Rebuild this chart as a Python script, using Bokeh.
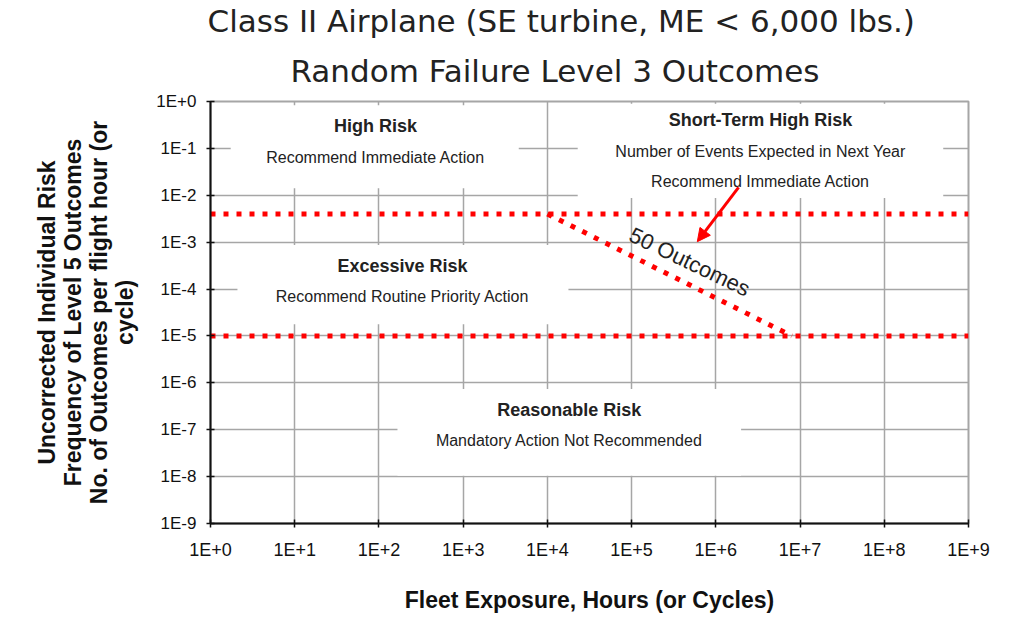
import math
from bokeh.plotting import figure
from bokeh.models import (Range1d, FixedTicker, CustomJSTickFormatter, ColumnDataSource,
                          Arrow, NormalHead, Title)
from bokeh.core.properties import value
from bokeh.embed import file_html
from bokeh.resources import INLINE

# ---------------- data ----------------
x_exponents = [0, 1, 2, 3, 4, 5, 6, 7, 8, 9]
y_exponents = [-9, -8, -7, -6, -5, -4, -3, -2, -1, 0]
x_tick_labels = ["1E+0", "1E+1", "1E+2", "1E+3", "1E+4", "1E+5", "1E+6", "1E+7", "1E+8", "1E+9"]
y_tick_labels = ["1E-9", "1E-8", "1E-7", "1E-6", "1E-5", "1E-4", "1E-3", "1E-2", "1E-1", "1E+0"]

upper_threshold = 4e-3      # High risk boundary
lower_threshold = 1e-5      # Reasonable risk boundary
exposure_min = 1.0
exposure_max = 1e9
outcome_line_exposure = [1e4, 8e6]       # 50 Outcomes line
outcome_line_frequency = [4e-3, 1e-5]

region_texts = ["High Risk", "Recommend Immediate Action",
                "Short-Term High Risk", "Number of Events Expected in Next Year", "Recommend Immediate Action",
                "Excessive Risk", "Recommend Routine Priority Action",
                "Reasonable Risk", "Mandatory Action Not Recommended"]
region_text_bold = [True, False, True, False, False, True, False, True, False]

outcome_label = "50 Outcomes"
title_lines = ["Class II Airplane (SE turbine, ME < 6,000 lbs.)", "Random Failure Level 3 Outcomes"]

# ---------------- layout ----------------
region_text_xexp = [1.96, 1.96, 6.53, 6.53, 6.53, 2.28, 2.28, 4.26, 4.26]
region_text_yexp = [-0.53, -1.19, -0.40, -1.06, -1.70, -3.50, -4.16, -6.58, -7.22]
box_left_exp = [0.24, 4.36, 0.32, 2.22]
box_right_exp = [3.66, 8.70, 4.25, 6.30]
box_top_exp = [-0.08, -0.05, -3.06, -6.13]
box_bottom_exp = [-1.85, -2.06, -4.75, -7.98]
outcome_label_pos = (5.69, -3.42)
arrow_start_exp = (6.27, -1.83)
arrow_end_exp = (5.78, -2.99)

FONT = "Liberation Sans"

p = figure(width=1008, height=615, x_axis_type="log", y_axis_type="log",
           x_range=Range1d(exposure_min, exposure_max), y_range=Range1d(1e-9, 1.0),
           output_backend="svg", toolbar_location=None,
           min_border_left=210, min_border_right=40, min_border_top=101, min_border_bottom=90,
           background_fill_color="white", border_fill_color="white")

# two-line title: second line closest to the frame
t2 = Title(text=title_lines[1], align="left", offset=80, text_font="DejaVu Sans",
           text_font_size="31px", text_font_style="normal", text_color="#222222", standoff=25)
t1 = Title(text=title_lines[0], align="left", offset=-3, text_font="DejaVu Sans",
           text_font_size="31px", text_font_style="normal", text_color="#222222", standoff=0)
p.add_layout(t2, "above")
p.add_layout(t1, "above")

# axes
fmt_code = "const e = Math.round(Math.log10(tick)); const i = exps.indexOf(e); return i >= 0 ? labels[i] : '';"
p.xaxis.ticker = FixedTicker(ticks=[10.0 ** e for e in x_exponents])
p.yaxis.ticker = FixedTicker(ticks=[10.0 ** e for e in y_exponents])
p.xaxis.formatter = CustomJSTickFormatter(args=dict(labels=x_tick_labels, exps=x_exponents), code=fmt_code)
p.yaxis.formatter = CustomJSTickFormatter(args=dict(labels=y_tick_labels, exps=y_exponents), code=fmt_code)

for ax in (p.xaxis, p.yaxis):
    ax.axis_line_color = "#111111"
    ax.axis_line_width = 2
    ax.major_tick_line_color = "#111111"
    ax.major_tick_line_width = 1.5
    ax.major_tick_in = 4
    ax.major_tick_out = 4
    ax.minor_tick_line_color = None
    ax.major_label_text_font = FONT
    ax.major_label_text_color = "#111111"
    ax.axis_label_text_font = FONT
    ax.axis_label_text_font_style = "bold"
    ax.axis_label_text_color = "#111111"

p.xaxis.major_label_text_font_size = "18px"
p.yaxis.major_label_text_font_size = "17px"
p.xaxis.major_label_standoff = 12
p.yaxis.major_label_standoff = 10
p.xaxis.axis_label = "Fleet Exposure, Hours (or Cycles)"
p.xaxis.axis_label_text_font_size = "23px"
p.xaxis.axis_label_standoff = 24
p.yaxis.axis_label = ("Uncorrected Individual Risk\nFrequency of Level 5 Outcomes\n"
                      "No. of Outcomes per flight hour (or\ncycle)")
p.yaxis.axis_label_text_font_size = "23px"
p.yaxis.axis_label_text_line_height = 1.0
p.yaxis.axis_label_standoff = 15

p.grid.grid_line_color = "#a6a6a6"
p.grid.grid_line_width = 1.5
p.grid.minor_grid_line_color = None
p.outline_line_color = "#a6a6a6"
p.outline_line_width = 2

# white text boxes that mask the grid
p.quad(left=[10 ** v for v in box_left_exp], right=[10 ** v for v in box_right_exp],
       top=[10 ** v for v in box_top_exp], bottom=[10 ** v for v in box_bottom_exp],
       fill_color="white", line_color=None)

# threshold lines
RED = "#ff0000"
p.line([exposure_min, exposure_max], [upper_threshold, upper_threshold],
       line_color=RED, line_width=5, line_dash="5 8")
p.line([exposure_min, exposure_max], [lower_threshold, lower_threshold],
       line_color=RED, line_width=5, line_dash="5 8")
p.line(outcome_line_exposure, outcome_line_frequency,
       line_color=RED, line_width=5, line_dash="5 8")

# region texts
src = ColumnDataSource(dict(
    x=[10 ** v for v in region_text_xexp],
    y=[10 ** v for v in region_text_yexp],
    text=region_texts,
    style=["bold" if b else "normal" for b in region_text_bold],
    size=["18px" if b else "16px" for b in region_text_bold],
))
p.text(x="x", y="y", text="text", source=src, text_font=value(FONT),
       text_font_style="style", text_font_size="size", text_color="#222222",
       text_align="center", text_baseline="middle")

p.text(x=[10 ** outcome_label_pos[0]], y=[10 ** outcome_label_pos[1]], text=[outcome_label],
       angle=-0.447, text_font=value(FONT), text_font_size="22px", text_color="#222222",
       text_align="center", text_baseline="middle")

p.add_layout(Arrow(end=NormalHead(size=13, fill_color=RED, line_color=RED),
                   x_start=10 ** arrow_start_exp[0], y_start=10 ** arrow_start_exp[1],
                   x_end=10 ** arrow_end_exp[0], y_end=10 ** arrow_end_exp[1],
                   line_color=RED, line_width=3))

open("out.html", "w").write(file_html(p, INLINE))
